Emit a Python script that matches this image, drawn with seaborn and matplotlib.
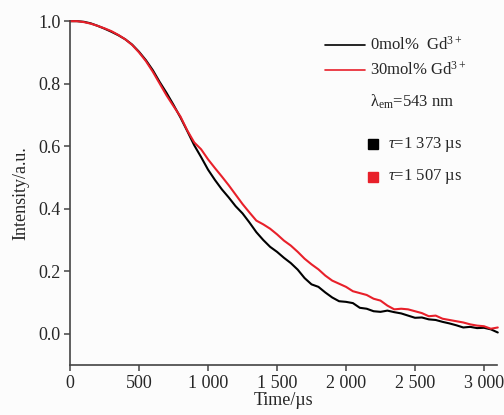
import numpy as np
import pandas as pd
import matplotlib
matplotlib.use("Agg")
import matplotlib.pyplot as plt
import seaborn as sns

time_us = list(range(0, 3101, 50))
black_0mol = [1.000, 1.000, 0.998, 0.993, 0.985, 0.976, 0.966, 0.955, 0.942, 0.925,
              0.902, 0.875, 0.843, 0.805, 0.770, 0.732, 0.692, 0.648, 0.603, 0.565,
              0.525, 0.492, 0.462, 0.436, 0.408, 0.385, 0.356, 0.325, 0.300, 0.278,
              0.262, 0.243, 0.226, 0.205, 0.178, 0.158, 0.150, 0.132, 0.116, 0.104,
              0.102, 0.098, 0.083, 0.080, 0.072, 0.070, 0.074, 0.069, 0.065, 0.058,
              0.051, 0.052, 0.046, 0.044, 0.038, 0.033, 0.027, 0.020, 0.022, 0.018,
              0.019, 0.014, 0.004]
red_30mol = [1.000, 1.000, 0.997, 0.992, 0.985, 0.977, 0.968, 0.956, 0.942, 0.924,
             0.900, 0.872, 0.838, 0.800, 0.762, 0.728, 0.695, 0.650, 0.612, 0.590,
             0.558, 0.530, 0.503, 0.475, 0.445, 0.415, 0.388, 0.362, 0.350, 0.336,
             0.318, 0.298, 0.282, 0.262, 0.240, 0.222, 0.206, 0.186, 0.170, 0.160,
             0.150, 0.136, 0.130, 0.124, 0.112, 0.106, 0.090, 0.078, 0.080, 0.078,
             0.072, 0.066, 0.056, 0.058, 0.048, 0.044, 0.040, 0.036, 0.030, 0.026,
             0.024, 0.016, 0.020]
series_labels = ["0mol%  Gd$^{3+}$", "30mol% Gd$^{3+}$"]
lifetimes = ["$\\tau$=1 373 µs", "$\\tau$=1 507 µs"]
colors = ["#000000", "#e8202a"]
xticks = [0, 500, 1000, 1500, 2000, 2500, 3000]
xticklabels = ["0", "500", "1 000", "1 500", "2 000", "2 500", "3 000"]
yticks = [0.0, 0.2, 0.4, 0.6, 0.8, 1.0]

sns.set_style("ticks")
plt.rcParams["font.family"] = ["Liberation Serif", "DejaVu Serif"]
plt.rcParams["mathtext.fontset"] = "custom"
plt.rcParams["mathtext.rm"] = "Liberation Serif"
plt.rcParams["mathtext.it"] = "Liberation Serif:italic"

df = pd.DataFrame({
    "t": time_us * 2,
    "I": black_0mol + red_30mol,
    "s": [series_labels[0]] * len(time_us) + [series_labels[1]] * len(time_us),
})

bg = "#fcfcfc"
fig = plt.figure(figsize=(5.04, 4.15), dpi=100, facecolor=bg)
ax = fig.add_axes([0.139, 0.1205, 0.847, 0.8285], facecolor=bg)
sns.lineplot(data=df, x="t", y="I", hue="s", palette=colors, ax=ax,
             linewidth=1.5, legend=False)
for l in ax.lines:
    l.set_clip_on(False)

ax.set_xlim(0, 3094)
ax.set_ylim(-0.1, 1.0)
ax.set_xticks(xticks)
ax.set_xticklabels(xticklabels)
ax.set_yticks(yticks)
ax.set_yticklabels([f"{v:.1f}" for v in yticks])
ax.tick_params(direction="out", length=4, width=1.1, color="#444444",
               labelsize=13, pad=3)
for side in ["top", "right"]:
    ax.spines[side].set_visible(False)
for side in ["left", "bottom"]:
    ax.spines[side].set_color("#444444")
    ax.spines[side].set_linewidth(1.2)
ax.set_xlabel("Time/µs", fontsize=13, labelpad=0)
ax.set_ylabel("Intensity/a.u.", fontsize=13, labelpad=6)

tr = ax.transAxes
ly = [0.930, 0.858]
for c, lab, y in zip(colors, series_labels, ly):
    ax.plot([0.597, 0.691], [y, y], color=c, lw=1.2, transform=tr, clip_on=False)
    ax.text(0.703, y, lab, transform=tr, fontsize=12, va="center", ha="left")
ax.text(0.703, 0.765, "λ$_{\\mathrm{em}}$=543 nm", transform=tr, fontsize=12,
        va="center", ha="left")
sy = [0.642, 0.547]
for c, lab, y in zip(colors, lifetimes, sy):
    ax.plot([0.710], [y], marker="s", ms=7, color=c, transform=tr, clip_on=False)
    ax.text(0.745, y, lab, transform=tr, fontsize=12, va="center", ha="left")

fig.savefig("out.png", dpi=100, facecolor=bg)
